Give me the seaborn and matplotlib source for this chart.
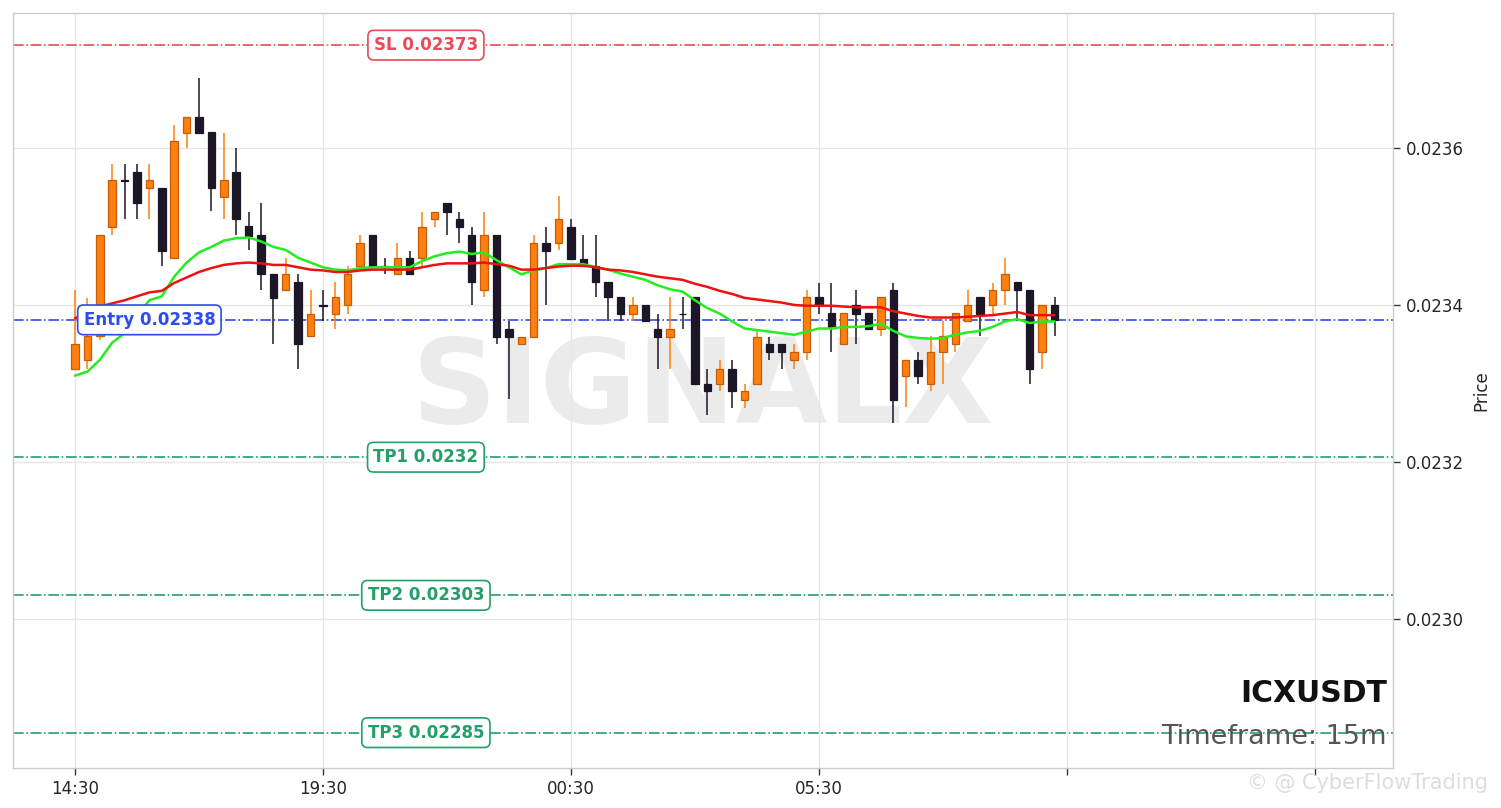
import numpy as np
import pandas as pd
import matplotlib
matplotlib.use("Agg")
import matplotlib.pyplot as plt
import seaborn as sns

# ICXUSDT 15m candles (open, high, low, close)
opens = [0.023319, 0.023330, 0.023360, 0.023499, 0.023559, 0.023569, 0.023549, 0.023549, 0.023460, 0.023619,
         0.023639, 0.023620, 0.023538, 0.023569, 0.023500, 0.023489, 0.023439, 0.023419, 0.023429, 0.023360,
         0.023400, 0.023389, 0.023400, 0.023449, 0.023489, 0.023449, 0.023439, 0.023460, 0.023460, 0.023509,
         0.023530, 0.023509, 0.023489, 0.023419, 0.023489, 0.023369, 0.023350, 0.023359, 0.023479, 0.023479,
         0.023499, 0.023459, 0.023450, 0.023429, 0.023410, 0.023389, 0.023400, 0.023369, 0.023359, 0.023389,
         0.023410, 0.023299, 0.023299, 0.023319, 0.023279, 0.023299, 0.023350, 0.023350, 0.023330, 0.023340,
         0.023410, 0.023390, 0.023350, 0.023400, 0.023390, 0.023369, 0.023419, 0.023309, 0.023330, 0.023299,
         0.023340, 0.023350, 0.023380, 0.023410, 0.023400, 0.023419, 0.023429, 0.023419, 0.023340, 0.023400]
highs = [0.023419, 0.023409, 0.023489, 0.023579, 0.023579, 0.023579, 0.023579, 0.023549, 0.023629, 0.023639,
         0.023689, 0.023620, 0.023619, 0.023600, 0.023519, 0.023530, 0.023439, 0.023460, 0.023439, 0.023419,
         0.023419, 0.023429, 0.023449, 0.023489, 0.023489, 0.023460, 0.023479, 0.023469, 0.023519, 0.023519,
         0.023530, 0.023519, 0.023499, 0.023519, 0.023489, 0.023380, 0.023359, 0.023489, 0.023499, 0.023539,
         0.023509, 0.023489, 0.023489, 0.023429, 0.023410, 0.023410, 0.023400, 0.023389, 0.023410, 0.023410,
         0.023410, 0.023319, 0.023330, 0.023330, 0.023299, 0.023367, 0.023359, 0.023350, 0.023350, 0.023419,
         0.023428, 0.023428, 0.023390, 0.023419, 0.023390, 0.023410, 0.023428, 0.023330, 0.023340, 0.023360,
         0.023379, 0.023390, 0.023419, 0.023410, 0.023428, 0.023460, 0.023429, 0.023419, 0.023400, 0.023410]
lows = [0.023318, 0.023319, 0.023355, 0.023489, 0.023509, 0.023509, 0.023509, 0.023449, 0.023460, 0.023600,
        0.023619, 0.023520, 0.023509, 0.023489, 0.023470, 0.023419, 0.023350, 0.023419, 0.023319, 0.023359,
        0.023380, 0.023369, 0.023389, 0.023449, 0.023449, 0.023439, 0.023439, 0.023439, 0.023450, 0.023499,
        0.023489, 0.023479, 0.023400, 0.023410, 0.023350, 0.023280, 0.023350, 0.023359, 0.023400, 0.023470,
        0.023459, 0.023450, 0.023410, 0.023380, 0.023380, 0.023380, 0.023380, 0.023319, 0.023319, 0.023369,
        0.023299, 0.023260, 0.023290, 0.023269, 0.023269, 0.023299, 0.023330, 0.023319, 0.023319, 0.023330,
        0.023389, 0.023340, 0.023350, 0.023350, 0.023369, 0.023360, 0.023250, 0.023270, 0.023299, 0.023290,
        0.023299, 0.023340, 0.023380, 0.023360, 0.023389, 0.023400, 0.023380, 0.023299, 0.023319, 0.023360]
closes = [0.023350, 0.023360, 0.023489, 0.023559, 0.023558, 0.023530, 0.023559, 0.023469, 0.023609, 0.023639,
          0.023619, 0.023549, 0.023559, 0.023509, 0.023488, 0.023439, 0.023409, 0.023439, 0.023350, 0.023389,
          0.023399, 0.023410, 0.023439, 0.023479, 0.023449, 0.023448, 0.023460, 0.023439, 0.023499, 0.023519,
          0.023519, 0.023499, 0.023429, 0.023489, 0.023359, 0.023359, 0.023359, 0.023479, 0.023469, 0.023509,
          0.023459, 0.023450, 0.023429, 0.023410, 0.023389, 0.023400, 0.023380, 0.023359, 0.023369, 0.023388,
          0.023299, 0.023290, 0.023319, 0.023290, 0.023290, 0.023359, 0.023340, 0.023340, 0.023340, 0.023410,
          0.023400, 0.023370, 0.023390, 0.023389, 0.023369, 0.023410, 0.023279, 0.023330, 0.023309, 0.023340,
          0.023360, 0.023390, 0.023400, 0.023389, 0.023419, 0.023439, 0.023419, 0.023319, 0.023400, 0.023381]

# moving averages
ma_fast = [0.023310, 0.023315, 0.023330, 0.023352, 0.023364, 0.023387, 0.023406, 0.023411, 0.023436, 0.023454,
           0.023467, 0.023474, 0.023482, 0.023485, 0.023486, 0.023481, 0.023474, 0.023470, 0.023460, 0.023454,
           0.023448, 0.023445, 0.023444, 0.023447, 0.023448, 0.023448, 0.023448, 0.023448, 0.023456, 0.023462,
           0.023466, 0.023468, 0.023465, 0.023467, 0.023457, 0.023448, 0.023439, 0.023444, 0.023447, 0.023452,
           0.023452, 0.023452, 0.023448, 0.023445, 0.023440, 0.023436, 0.023432, 0.023425, 0.023420, 0.023417,
           0.023406, 0.023396, 0.023389, 0.023379, 0.023370, 0.023368, 0.023366, 0.023364, 0.023362, 0.023366,
           0.023370, 0.023370, 0.023372, 0.023372, 0.023373, 0.023376, 0.023367, 0.023360, 0.023358, 0.023357,
           0.023358, 0.023362, 0.023365, 0.023367, 0.023372, 0.023379, 0.023382, 0.023377, 0.023379, 0.023379]
ma_slow = [0.023383, 0.023390, 0.023398, 0.023402, 0.023406, 0.023411, 0.023416, 0.023418, 0.023428, 0.023435,
           0.023442, 0.023447, 0.023451, 0.023453, 0.023454, 0.023453, 0.023451, 0.023451, 0.023448, 0.023445,
           0.023444, 0.023442, 0.023442, 0.023444, 0.023445, 0.023445, 0.023445, 0.023445, 0.023448, 0.023451,
           0.023453, 0.023453, 0.023453, 0.023454, 0.023452, 0.023450, 0.023445, 0.023445, 0.023447, 0.023449,
           0.023450, 0.023450, 0.023448, 0.023445, 0.023444, 0.023442, 0.023439, 0.023436, 0.023434, 0.023432,
           0.023427, 0.023423, 0.023418, 0.023414, 0.023409, 0.023407, 0.023405, 0.023403, 0.023400, 0.023399,
           0.023399, 0.023399, 0.023398, 0.023397, 0.023397, 0.023397, 0.023392, 0.023389, 0.023386, 0.023384,
           0.023384, 0.023384, 0.023385, 0.023386, 0.023387, 0.023389, 0.023391, 0.023387, 0.023387, 0.023387]

tick_pos = [0, 20, 40, 60, 80, 100]
tick_labels = ["14:30", "19:30", "00:30", "05:30", "", ""]

level_names = ["SL", "Entry", "TP1", "TP2", "TP3"]
level_values = [0.023731, 0.023381, 0.023206, 0.023030, 0.022855]
level_texts = ["SL 0.02373", "Entry 0.02338", "TP1 0.0232", "TP2 0.02303", "TP3 0.02285"]

df = pd.DataFrame({"open": opens, "high": highs, "low": lows, "close": closes,
                   "fast": ma_fast, "slow": ma_slow})
df["idx"] = np.arange(len(df))

sns.set_theme(style="whitegrid")
plt.rcParams['font.family'] = ['DejaVu Sans']

fig = plt.figure(figsize=(15.01, 8.08), dpi=100)
ax = fig.add_axes([13 / 1501, 40 / 808, 1380 / 1501, 755 / 808])

up_col, up_edge = "#ff7f0e", "#c45c08"
dn_col = "#1c1626"
up = df["close"] >= df["open"]
wick_cols = np.where(up, up_col, dn_col)

# wicks
ax.vlines(df["idx"], df["low"], df["high"], colors=wick_cols, linewidth=1.1, zorder=2)
# bodies
body = (df["close"] - df["open"]).abs().clip(lower=4e-7)
bottom = df[["open", "close"]].min(axis=1)
ax.bar(df["idx"][up], body[up], bottom=bottom[up], width=0.6,
       color=up_col, edgecolor=up_edge, linewidth=0.9, zorder=3)
ax.bar(df["idx"][~up], body[~up], bottom=bottom[~up], width=0.6,
       color=dn_col, edgecolor=dn_col, linewidth=0.9, zorder=3)

# moving averages
sns.lineplot(data=df, x="idx", y="fast", color="#22ee22", linewidth=1.8, ax=ax, zorder=4)
sns.lineplot(data=df, x="idx", y="slow", color="#ee1111", linewidth=1.8, ax=ax, zorder=4)

# trade levels
styles = {"SL": ("#e84a5a", 28.3), "Entry": ("#2d4cf0", 6.0),
          "TP1": ("#22a068", 28.3), "TP2": ("#22a068", 28.3), "TP3": ("#22a068", 28.3)}
for name, val, txt in zip(level_names, level_values, level_texts):
    col, xpos = styles[name]
    ax.axhline(val, color=col, linestyle="-.", linewidth=1.2, zorder=1)
    ax.text(xpos, val, txt, color=col, fontsize=12, fontweight="bold",
            ha="center", va="center", zorder=6,
            bbox=dict(boxstyle="round,pad=0.35", fc="white", ec=col, lw=1.2))

# watermark
ax.text(0.5, 0.50, "SIGNALX", transform=ax.transAxes, fontsize=85, fontweight="bold",
        color="#ebebeb", ha="center", va="center", zorder=0)

ax.text(0.9957, 0.099, "ICXUSDT", transform=ax.transAxes, fontsize=21.5,
        fontweight="bold", color="#111111", ha="right", va="center", zorder=6)
ax.text(0.9957, 0.041, "Timeframe: 15m", transform=ax.transAxes, fontsize=19.5,
        color="#555555", ha="right", va="center", zorder=6)

ax.set_xlim(-5.0, 106.3)
ax.set_ylim(0.02281, 0.023772)
ax.set_xticks(tick_pos)
ax.set_xticklabels(tick_labels)
ax.set_yticks([0.0230, 0.0232, 0.0234, 0.0236])
ax.set_yticklabels(["0.0230", "0.0232", "0.0234", "0.0236"])
ax.yaxis.tick_right()
ax.yaxis.set_label_position("right")
ax.set_ylabel("Price", fontsize=12, labelpad=6)
ax.set_xlabel("")
ax.tick_params(axis="both", labelsize=12, length=5, width=1, color="#333333",
               direction="out", pad=4)
ax.tick_params(axis="x", bottom=True)
ax.tick_params(axis="y", right=True, left=False)
ax.grid(True, color="#e6e6e6", linewidth=0.9)
for s in ax.spines.values():
    s.set_color("#cccccc")
    s.set_linewidth(1.0)

fig.text(1488 / 1501, 1 - 783 / 808, "\u00a9 @ CyberFlowTrading", fontsize=15,
         color="#dddddd", ha="right", va="center")

fig.savefig("out.png", dpi=100)
